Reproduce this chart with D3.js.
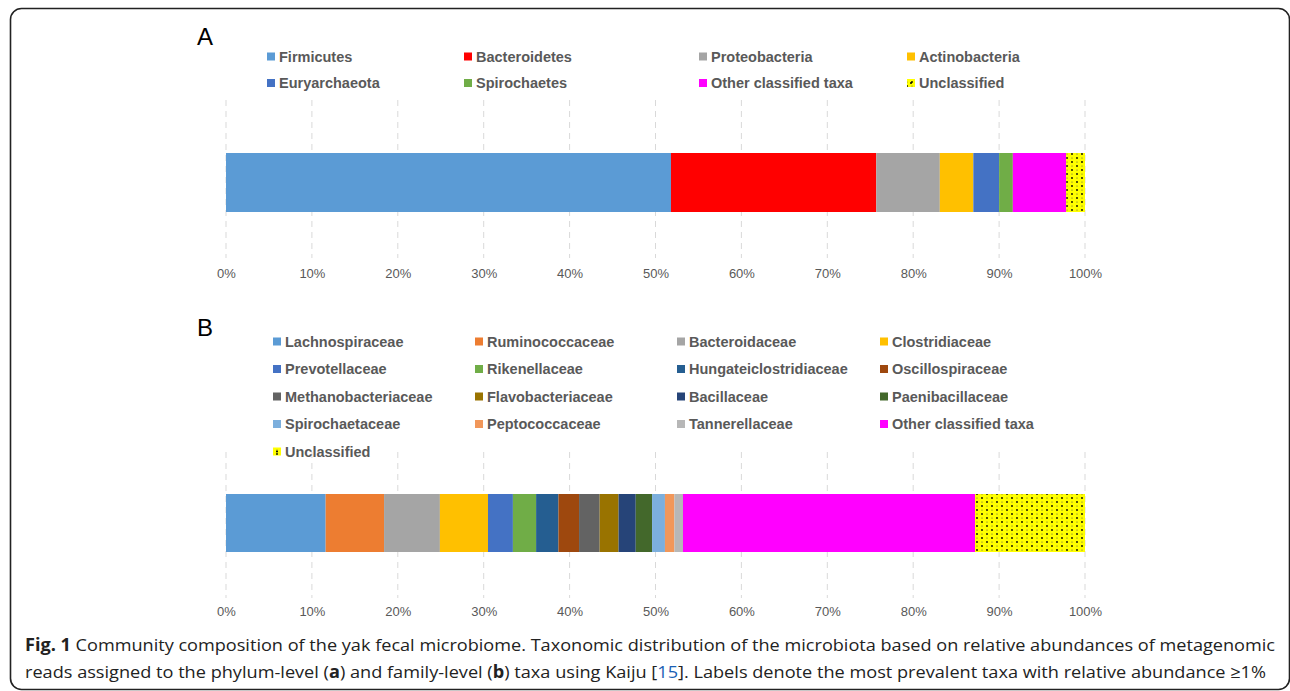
<!DOCTYPE html>
<html><head><meta charset="utf-8">
<script src="https://cdn.jsdelivr.net/npm/d3@7"></script>
<style>body{margin:0;background:#fff}svg{display:block}</style>
</head><body>
<svg id="c" width="1290" height="691"></svg>
<script>
// ---- data ----
const phylaNames = ["Firmicutes","Bacteroidetes","Proteobacteria","Actinobacteria","Euryarchaeota","Spirochaetes","Other classified taxa","Unclassified"];
const phylaValues = [51.8, 23.9, 7.4, 3.9, 3.0, 1.6, 6.2, 2.2];
const phylaColors = ["#5B9BD5","#FF0000","#A5A5A5","#FFC000","#4472C4","#70AD47","#FF00FF","dots"];

const familyNames = ["Lachnospiraceae","Ruminococcaceae","Bacteroidaceae","Clostridiaceae","Prevotellaceae","Rikenellaceae","Hungateiclostridiaceae","Oscillospiraceae","Methanobacteriaceae","Flavobacteriaceae","Bacillaceae","Paenibacillaceae","Spirochaetaceae","Peptococcaceae","Tannerellaceae","Other classified taxa","Unclassified"];
const familyValues = [11.6, 6.8, 6.5, 5.6, 2.9, 2.7, 2.6, 2.4, 2.4, 2.2, 2.0, 1.9, 1.5, 1.1, 1.0, 34.0, 12.8];
const familyColors = ["#5B9BD5","#ED7D31","#A5A5A5","#FFC000","#4472C4","#70AD47","#255E91","#9E480E","#636363","#997300","#264478","#43682B","#7CAFDD","#F1975A","#B7B7B7","#FF00FF","dots"];

const tickValues = [0,10,20,30,40,50,60,70,80,90,100];
const tickLabels = ["0%","10%","20%","30%","40%","50%","60%","70%","80%","90%","100%"];

// ---- drawing ----
const svg = d3.select("#c");
const defs = svg.append("defs");
const pat = defs.append("pattern").attr("id","dots").attr("patternUnits","userSpaceOnUse")
  .attr("width",10).attr("height",8);
pat.append("rect").attr("width",10).attr("height",8).attr("fill","#FFFF00");
[[2,2,0.9,"#000"],[7,6,0.9,"#000"],[7,2,0.6,"#555"],[2,6,0.6,"#555"]].forEach(d=>{
  pat.append("circle").attr("cx",d[0]).attr("cy",d[1]).attr("r",d[2]).attr("fill",d[3]);
});
const fillOf = c => c === "dots" ? "url(#dots)" : c;

// frame
svg.append("rect").attr("x",10.5).attr("y",8.5).attr("width",1279).attr("height",681)
  .attr("rx",11).attr("fill","none").attr("stroke","#222").attr("stroke-width",1.6);

const x = d3.scaleLinear().domain([0,100]).range([226,1085]);

function panel(cfg){
  const g = svg.append("g");
  // gridlines
  g.selectAll("line.grid").data(tickValues).enter().append("line")
    .attr("x1",d=>x(d)).attr("x2",d=>x(d)).attr("y1",cfg.gridTop).attr("y2",cfg.gridBottom)
    .attr("stroke","#D9D9D9").attr("stroke-width",1).attr("stroke-dasharray","6,5");
  // stacked bar
  let acc = 0;
  const segs = cfg.values.map((v,i)=>{ const s = {x0:acc, x1:acc+v, c:cfg.colors[i]}; acc += v; return s; });
  g.selectAll("rect.seg").data(segs).enter().append("rect")
    .attr("x",d=>x(d.x0)).attr("width",d=>x(d.x1)-x(d.x0))
    .attr("y",cfg.barTop).attr("height",cfg.barBottom-cfg.barTop)
    .attr("fill",d=>fillOf(d.c));
  // axis
  const ax = d3.axisBottom(x).tickValues(tickValues).tickFormat((d,i)=>tickLabels[i]).tickSize(0).tickPadding(0);
  const axg = g.append("g").attr("transform",`translate(0,${cfg.axisY})`).call(ax);
  axg.select(".domain").remove();
  axg.selectAll("text").attr("font-family","'Liberation Sans', Arial, sans-serif")
    .attr("font-size",13).attr("fill","#595959").attr("dy","0.32em").attr("y",0);
  // panel letter
  g.append("text").attr("x",197).attr("y",cfg.letterY).text(cfg.letter)
    .attr("font-family","'Liberation Sans', Arial, sans-serif").attr("font-size",24).attr("fill","#000");
  // legend
  cfg.names.forEach((n,i)=>{
    const col = i % 4, row = Math.floor(i/4);
    const lx = cfg.legCols[col], ly = cfg.legRows[row];
    g.append("rect").attr("x",lx).attr("y",ly-4).attr("width",8).attr("height",8).attr("fill",fillOf(cfg.colors[i]));
    if (cfg.colors[i] === "dots") g.append("circle").attr("cx",lx+4).attr("cy",ly).attr("r",1).attr("fill","#000");
    g.append("text").attr("x",lx+12).attr("y",ly).attr("dy","0.35em").text(n)
      .attr("font-family","'Liberation Sans', Arial, sans-serif").attr("font-weight","bold")
      .attr("font-size",14.5).attr("fill","#595959");
  });
}

panel({letter:"A", letterY:45, names:phylaNames, values:phylaValues, colors:phylaColors,
  legCols:[267,464,699,907], legRows:[56.5,83],
  gridTop:100, gridBottom:258, barTop:153, barBottom:212, axisY:274});
panel({letter:"B", letterY:336, names:familyNames, values:familyValues, colors:familyColors,
  legCols:[273,475,677,880], legRows:[341.5,369,396.5,424,451.5],
  gridTop:452, gridBottom:598, barTop:494, barBottom:552, axisY:612});

// caption
const cap = svg.append("g").attr("font-family","'Open Sans', 'Noto Sans', sans-serif").attr("font-size",17).attr("fill","#222");
const l1 = cap.append("text").attr("x",25).attr("y",651).attr("textLength",1250).attr("lengthAdjust","spacingAndGlyphs");
l1.append("tspan").attr("font-weight","bold").text("Fig. 1");
l1.append("tspan").text(" Community composition of the yak fecal microbiome. Taxonomic distribution of the microbiota based on relative abundances of metagenomic");
const l2 = cap.append("text").attr("x",25).attr("y",678).attr("textLength",1241).attr("lengthAdjust","spacingAndGlyphs");
l2.append("tspan").text("reads assigned to the phylum-level (");
l2.append("tspan").attr("font-weight","bold").text("a");
l2.append("tspan").text(") and family-level (");
l2.append("tspan").attr("font-weight","bold").text("b");
l2.append("tspan").text(") taxa using Kaiju [");
l2.append("tspan").attr("fill","#1a5fb4").text("15");
l2.append("tspan").text("]. Labels denote the most prevalent taxa with relative abundance \u22651%");
</script>
</body></html>
